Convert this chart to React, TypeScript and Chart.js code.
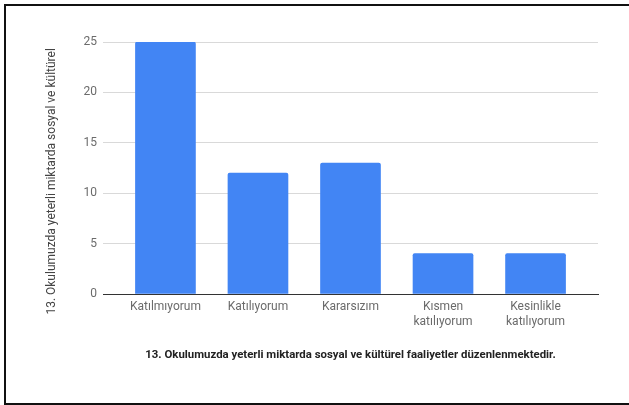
import React, { useEffect, useRef } from "react";
import { Chart, registerables } from "chart.js";

Chart.register(...registerables);

const categories = ["Katılmıyorum", "Katılıyorum", "Kararsızım", "Kısmen katılıyorum", "Kesinlikle katılıyorum"];
const tickLabels: string[][] = [
  ["Katılmıyorum"],
  ["Katılıyorum"],
  ["Kararsızım"],
  ["Kısmen", "katılıyorum"],
  ["Kesinlikle", "katılıyorum"],
];
const values = [25, 12, 13, 4, 4];
const yTicks = [0, 5, 10, 15, 20, 25];
const xTitle = "13. Okulumuzda yeterli miktarda sosyal ve kültürel faaliyetler düzenlenmektedir.";
const yTitle = "13. Okulumuzda yeterli miktarda sosyal ve kültürel";

export default function App() {
  const ref = useRef<HTMLCanvasElement | null>(null);

  useEffect(() => {
    if (!ref.current) return;
    const chart = new Chart(ref.current, {
      type: "bar",
      data: {
        datasets: [
          {
            data: values.map((v, i) => ({ x: i, y: v })),
            backgroundColor: "#4285F4",
            barThickness: 60,
            borderRadius: { topLeft: 2, topRight: 2, bottomLeft: 0, bottomRight: 0 },
            borderSkipped: "bottom",
          },
        ],
      },
      options: {
        animation: false,
        responsive: false,
        maintainAspectRatio: false,
        layout: { padding: { left: 45, right: 31, top: 42, bottom: 43 } },
        plugins: { legend: { display: false }, tooltip: { enabled: false } },
        scales: {
          x: {
            type: "linear",
            offset: false,
            min: -0.675,
            max: 4.675,
            grid: { display: false, drawTicks: false, offset: false },
            border: { display: true, color: "#333333", width: 1 },
            afterBuildTicks: (s: any) => {
              s.ticks = categories.map((_, i) => ({ value: i }));
            },
            ticks: {
              autoSkip: false,
              maxRotation: 0,
              minRotation: 0,
              padding: 6,
              color: "#6b6b6b",
              font: { family: "Roboto", size: 12 },
              callback: (v: any) => tickLabels[v] ?? "",
            },
            title: {
              display: true,
              text: xTitle,
              color: "#222222",
              font: { family: "Roboto", size: 11.4, weight: "bold" },
              padding: 0,
            },
            afterFit: (s: any) => {
              s.height = 68;
            },
          },
          y: {
            min: 0,
            max: 25,
            afterBuildTicks: (s: any) => {
              s.ticks = yTicks.map((v) => ({ value: v }));
            },
            grid: {
              color: (c: any) => (c.tick && c.tick.value === 0 ? "#333333" : "#d9d9d9"),
              drawTicks: false,
            },
            border: { display: false },
            ticks: {
              padding: 6,
              color: "#6b6b6b",
              font: { family: "Roboto", size: 12 },
            },
            title: {
              display: true,
              text: yTitle + "         ",
              color: "#444444",
              font: { family: "Roboto", size: 12 },
              padding: 0,
            },
            afterFit: (s: any) => {
              s.width = 58;
            },
          },
        },
      } as any,
    });
    return () => chart.destroy();
  }, []);

  return (
    <div
      style={{
        position: "fixed",
        left: 0,
        top: 0,
        width: 629,
        height: 405,
        background: "#ffffff",
        overflow: "hidden",
      }}
    >
      <canvas ref={ref} width={629} height={405} style={{ display: "block", width: 629, height: 405 }} />
      <div
        style={{
          position: "absolute",
          left: 4,
          top: 4,
          width: 700,
          height: 401,
          boxSizing: "border-box",
          border: "2px solid #111111",
          pointerEvents: "none",
        }}
      />
    </div>
  );
}
